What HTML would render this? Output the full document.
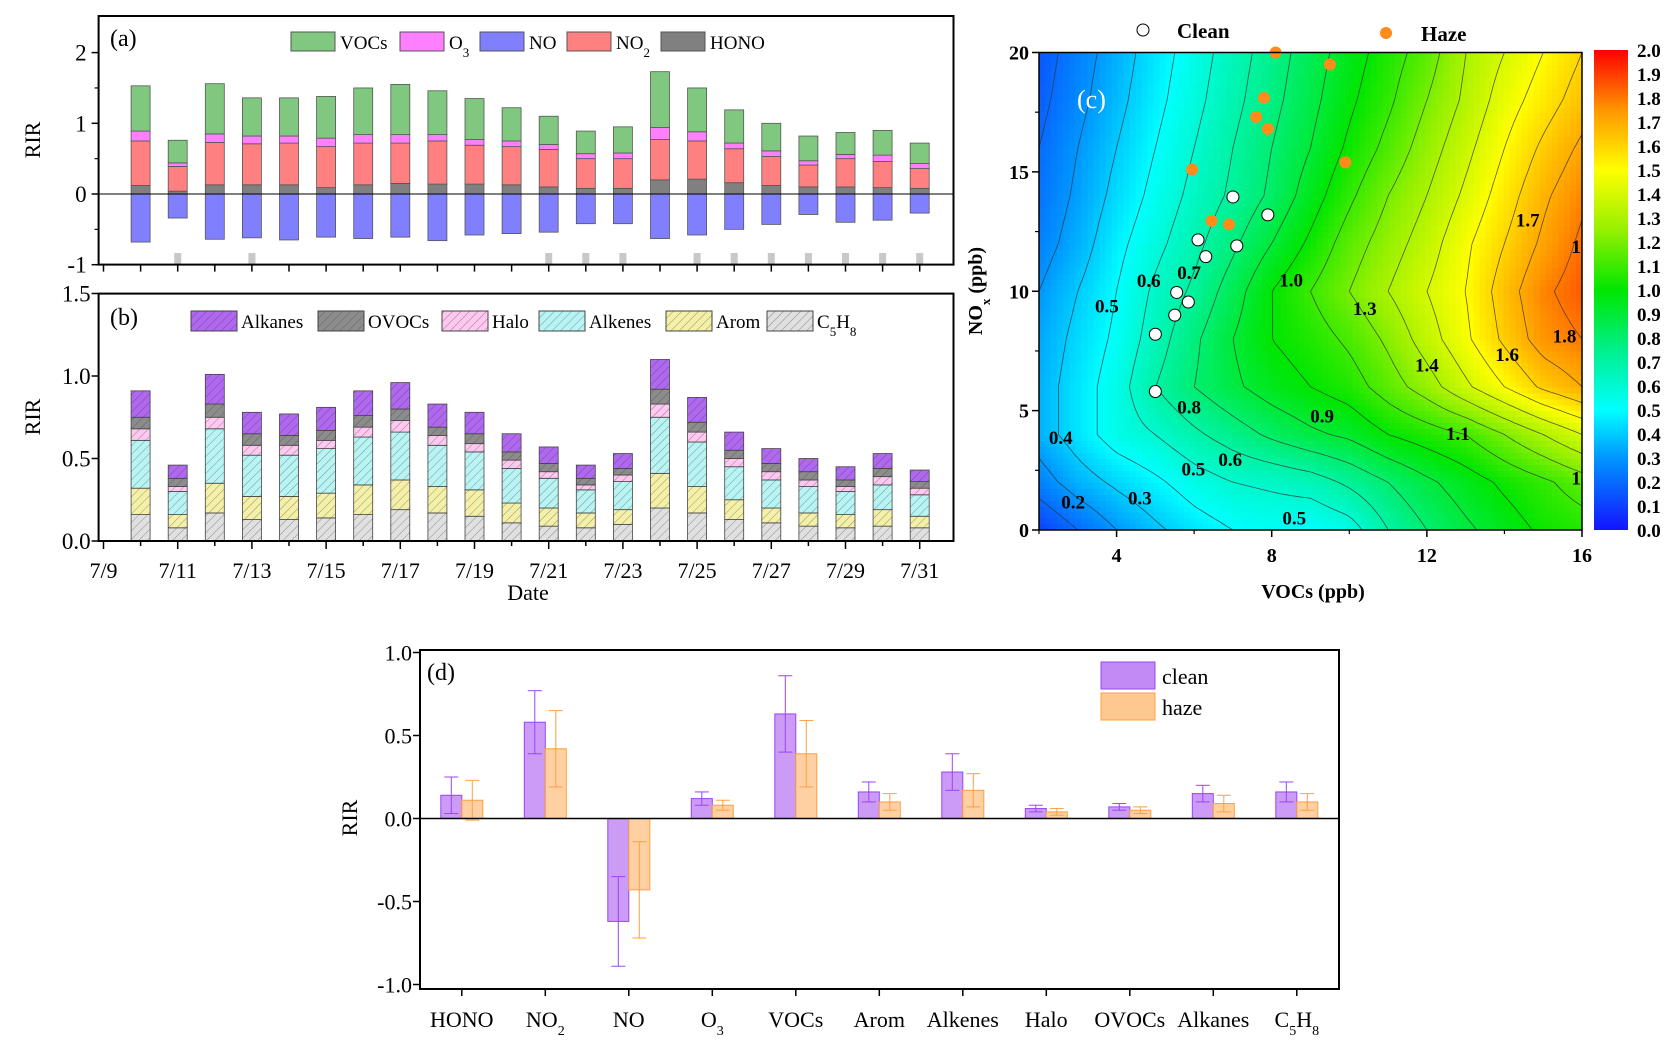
<!DOCTYPE html>
<html><head><meta charset="utf-8"><style>
html,body{margin:0;padding:0;background:#fff;}
svg{display:block;font-family:"Liberation Serif",serif;}
</style></head><body>
<svg id="s" width="1680" height="1054" viewBox="0 0 1680 1054" xmlns="http://www.w3.org/2000/svg">
<defs>
<pattern id="hatch" width="6" height="6" patternUnits="userSpaceOnUse" patternTransform="rotate(45)">
<line x1="0" y1="0" x2="0" y2="6" stroke="#333" stroke-width="0.9" stroke-opacity="0.55"/>
</pattern>
<linearGradient id="cbar" x1="0" y1="1" x2="0" y2="0">
<stop offset="0" stop-color="rgb(20,20,255)"/><stop offset="0.15" stop-color="rgb(0,150,255)"/>
<stop offset="0.25" stop-color="rgb(0,255,255)"/><stop offset="0.375" stop-color="rgb(0,240,140)"/>
<stop offset="0.5" stop-color="rgb(0,230,0)"/><stop offset="0.625" stop-color="rgb(150,240,0)"/>
<stop offset="0.75" stop-color="rgb(255,255,0)"/><stop offset="0.875" stop-color="rgb(255,150,0)"/>
<stop offset="1" stop-color="rgb(255,0,0)"/>
</linearGradient>
<clipPath id="cclip"><rect x="1039" y="52.5" width="543" height="477.5"/></clipPath>
</defs>
<g id="pa"></g>
<g id="pb"></g>
<g id="pc"></g>
<g id="pd"></g>
</svg>
<script>
// ---------- Panel (a) data ----------
const daysA = [10,11,12,13,14,15,16,17,18,19,20,21,22,23,24,25,26,27,28,29,30,31];
const honoTop = [.12,.04,.13,.13,.13,.09,.13,.15,.14,.14,.13,.10,.08,.08,.20,.21,.16,.12,.10,.10,.09,.08];
const no2Top  = [.75,.39,.73,.71,.72,.67,.72,.72,.75,.69,.67,.63,.50,.50,.77,.75,.64,.53,.41,.50,.46,.36];
const o3Top   = [.89,.44,.85,.82,.82,.79,.84,.84,.84,.77,.75,.70,.57,.58,.94,.88,.72,.61,.47,.56,.55,.43];
const vocTop  = [1.53,.76,1.56,1.36,1.36,1.38,1.50,1.55,1.46,1.35,1.22,1.10,.89,.95,1.73,1.50,1.19,1.00,.82,.87,.90,.72];
const noVal   = [-.68,-.34,-.64,-.62,-.65,-.61,-.63,-.61,-.66,-.58,-.56,-.54,-.42,-.42,-.63,-.58,-.50,-.43,-.29,-.40,-.37,-.27];
const hazeDays = [11,13,21,22,23,25,26,27,28,29,30,31];
const yTicksA = [-1,0,1,2];
// ---------- Panel (b) data ----------
const c5Top  = [.16,.08,.17,.13,.13,.14,.16,.19,.17,.15,.11,.09,.08,.10,.20,.17,.13,.11,.09,.08,.09,.08];
const aromTop= [.32,.16,.35,.27,.27,.29,.34,.37,.33,.31,.23,.20,.17,.19,.41,.33,.25,.20,.17,.16,.19,.15];
const alkeTop= [.61,.30,.68,.52,.52,.56,.63,.66,.58,.54,.44,.38,.31,.36,.75,.60,.45,.37,.33,.30,.34,.28];
const haloTop= [.68,.33,.75,.58,.58,.61,.69,.73,.64,.59,.49,.42,.34,.40,.83,.66,.50,.42,.37,.33,.39,.32];
const ovocTop= [.75,.38,.83,.65,.64,.67,.76,.80,.69,.65,.54,.47,.38,.44,.92,.72,.55,.47,.42,.37,.44,.36];
const alkaTop= [.91,.46,1.01,.78,.77,.81,.91,.96,.83,.78,.65,.57,.46,.53,1.10,.87,.66,.56,.50,.45,.53,.43];
const yTicksB = ["0.0","0.5","1.0","1.5"];
const xLabelDays = [9,11,13,15,17,19,21,23,25,27,29,31];
// ---------- Panel (c) data ----------
const gridX = [2,3,4,5,6,7,8,9,10,11,12,13,14,15,16];
const gridY = [0,2,4,6,8,10,12,14,16,18,20];
const gridZ = [
 [.10,.20,.30,.38,.45,.50,.52,.50,.55,.70,.80,.88,.95,1.02,1.05],
 [.25,.35,.42,.48,.55,.60,.62,.65,.72,.80,.88,.95,1.02,1.08,1.15],
 [.35,.45,.55,.60,.68,.75,.82,.88,.92,1.00,1.05,1.10,1.20,1.30,1.40],
 [.35,.45,.55,.70,.80,.88,.95,1.00,1.05,1.15,1.25,1.38,1.50,1.62,1.70],
 [.33,.43,.52,.65,.78,.90,1.00,1.05,1.12,1.22,1.35,1.48,1.62,1.75,1.80],
 [.30,.40,.50,.62,.72,.85,1.00,1.10,1.20,1.30,1.40,1.50,1.65,1.78,1.85],
 [.25,.35,.47,.57,.67,.78,.90,1.02,1.15,1.25,1.35,1.48,1.60,1.72,1.82],
 [.22,.32,.43,.53,.63,.72,.82,.95,1.08,1.20,1.30,1.42,1.55,1.68,1.78],
 [.20,.30,.40,.50,.60,.70,.80,.90,1.02,1.13,1.25,1.37,1.50,1.62,1.72],
 [.17,.27,.37,.47,.57,.67,.77,.87,.98,1.08,1.20,1.32,1.45,1.55,1.65],
 [.15,.25,.35,.45,.55,.65,.75,.85,.95,1.05,1.15,1.30,1.40,1.50,1.60]];
const contourLevels = [0.1,0.2,0.3,0.4,0.5,0.6,0.7,0.8,0.9,1.0,1.1,1.2,1.3,1.4,1.5,1.6,1.7,1.8,1.9];
const cleanX = [5.0,5.0,5.5,5.55,5.85,6.3,6.1,7.1,7.0,7.9];
const cleanY = [5.8,8.2,9.0,9.95,9.55,11.45,12.15,11.9,13.95,13.2];
const hazeX = [8.1,9.5,7.8,7.6,7.9,5.95,9.9,6.45,6.9];
const hazeY = [20,19.5,18.1,17.3,16.8,15.1,15.4,12.95,12.8];
const contourText = ["0.5","0.6","0.7","1.0","1.3","1.7","1","1.8","1.6","1.4","0.8","0.9","1.1","0.4","0.6","0.5","0.3","0.2","0.5","1"];
const contourX = [3.75,4.83,5.87,8.5,10.4,14.6,15.85,15.55,14.07,12.0,5.87,9.3,12.8,2.56,6.93,5.98,4.6,2.88,8.58,15.85];
const contourY = [9.4,10.47,10.8,10.5,9.3,13.0,11.9,8.15,7.37,6.94,5.17,4.8,4.06,3.9,2.98,2.57,1.36,1.19,0.53,2.19];
const xTicksC = [4,8,12,16];
const yTicksC = [0,5,10,15,20];
const cbarTicks = ["0.0","0.1","0.2","0.3","0.4","0.5","0.6","0.7","0.8","0.9","1.0","1.1","1.2","1.3","1.4","1.5","1.6","1.7","1.8","1.9","2.0"];
// ---------- Panel (d) data ----------
const catsD = ["HONO","NO2","NO","O3","VOCs","Arom","Alkenes","Halo","OVOCs","Alkanes","C5H8"];
const cleanV = [.14,.58,-.62,.12,.63,.16,.28,.06,.07,.15,.16];
const cleanE = [.11,.19,.27,.04,.23,.06,.11,.02,.02,.05,.06];
const hazeV  = [.11,.42,-.43,.08,.39,.10,.17,.04,.05,.09,.10];
const hazeE  = [.12,.23,.29,.03,.20,.05,.10,.02,.02,.05,.05];
const yTicksD = ["-1.0","-0.5","0.0","0.5","1.0"];

const NS="http://www.w3.org/2000/svg";
function mk(parent,tag,attrs,text){const e=document.createElementNS(NS,tag);for(const k in attrs)e.setAttribute(k,attrs[k]);if(text!==undefined)e.textContent=text;parent.appendChild(e);return e;}

// ===== Panel a =====
(function(){
 const g=document.getElementById('pa');
 const L=98.6,R=953.5,T=16,B=264.6;
 const y=v=>194-v*70.7, x=d=>103.5+(d-9)*37.1, bw=19;
 const series=[["hono",null,honoTop,"#808080"],["no2",honoTop,no2Top,"#ff8080"],["o3",no2Top,o3Top,"#ff80ff"],["vocs",o3Top,vocTop,"#80c880"]];
 daysA.forEach((d,i)=>{
  series.forEach(s=>{
   const lo=s[1]?s[1][i]:0, hi=s[2][i];
   const r=mk(g,'rect',{x:x(d)-bw/2,y:y(hi),width:bw,height:Math.max(0,y(lo)-y(hi)),fill:s[3],stroke:"#555","stroke-width":0.8});
   
   
  });
  const r=mk(g,'rect',{x:x(d)-bw/2,y:y(0),width:bw,height:y(noVal[i])-y(0),fill:"#8080ff",stroke:"#555","stroke-width":0.8});
  
  
 });
 hazeDays.forEach(d=>{const r=mk(g,'rect',{x:x(d)-3.5,y:253,width:7,height:11,fill:"#c8c8c8"});
  
  });
 mk(g,'line',{x1:L,y1:y(0),x2:R,y2:y(0),stroke:"#000","stroke-width":1});
 const f=mk(g,'rect',{x:L,y:T,width:R-L,height:B-T,fill:"none",stroke:"#000","stroke-width":2});
 
 for(let d=9;d<=31;d++) mk(g,'line',{x1:x(d),y1:B,x2:x(d),y2:B+7,stroke:"#000","stroke-width":1.5});
 yTicksA.forEach(v=>{mk(g,'line',{x1:L-7,y1:y(v),x2:L,y2:y(v),stroke:"#000","stroke-width":1.5});
  const t=mk(g,'text',{x:L-12,y:y(v)+8,"text-anchor":"end","font-size":23},String(v));
  });
 [-0.5,0.5,1.5].forEach(v=>mk(g,'line',{x1:L-4,y1:y(v),x2:L,y2:y(v),stroke:"#000","stroke-width":1.2}));
 const yl=mk(g,'text',{x:40,y:140,"text-anchor":"middle","font-size":22,transform:"rotate(-90 40 140)"},"RIR");
 
 const pl=mk(g,'text',{x:110,y:46,"font-size":24},"(a)");
 const leg=[["VOCs",291,"#80c880"],["O<tspan baseline-shift='sub' font-size='13'>3</tspan>",400,"#ff80ff"],["NO",480,"#8080ff"],["NO<tspan baseline-shift='sub' font-size='13'>2</tspan>",567,"#ff8080"],["HONO",661,"#808080"]];
 leg.forEach(l=>{const r=mk(g,'rect',{x:l[1],y:32,width:44,height:19,fill:l[2],stroke:"#555","stroke-width":1});
  
  const t=mk(g,'text',{x:l[1]+49,y:49,"font-size":19});t.innerHTML=l[0];
  });
})();

// ===== Panel b =====
(function(){
 const g=document.getElementById('pb');
 const L=98.6,R=953.5,T=293.6,B=541;
 const y=v=>B-v*165, x=d=>103.5+(d-9)*37.1, bw=19;
 const series=[["c5h8",null,c5Top,"#e0e0e0"],["arom",c5Top,aromTop,"#f4f0a8"],["alkenes",aromTop,alkeTop,"#b8f4f4"],["halo",alkeTop,haloTop,"#ffc8f0"],["ovocs",haloTop,ovocTop,"#8c8c8c"],["alkanes",ovocTop,alkaTop,"#b068f0"]];
 daysA.forEach((d,i)=>{
  series.forEach(s=>{
   const lo=s[1]?s[1][i]:0, hi=s[2][i];
   const r=mk(g,'rect',{x:x(d)-bw/2,y:y(hi),width:bw,height:Math.max(0,y(lo)-y(hi)),fill:s[3],stroke:"#444","stroke-width":0.8});
   
   
   mk(g,'rect',{x:x(d)-bw/2,y:y(hi),width:bw,height:Math.max(0,y(lo)-y(hi)),fill:"url(#hatch)"});
  });
 });
 const f=mk(g,'rect',{x:L,y:T,width:R-L,height:B-T,fill:"none",stroke:"#000","stroke-width":2});
 
 for(let d=9;d<=31;d++) mk(g,'line',{x1:x(d),y1:B,x2:x(d),y2:B+(d%2?8:5),stroke:"#000","stroke-width":1.5});
 xLabelDays.forEach(d=>{const t=mk(g,'text',{x:x(d),y:578,"text-anchor":"middle","font-size":22},"7/"+d);
  });
 yTicksB.forEach(s=>{const v=parseFloat(s);mk(g,'line',{x1:L-7,y1:y(v),x2:L,y2:y(v),stroke:"#000","stroke-width":1.5});
  const t=mk(g,'text',{x:L-8,y:y(v)+8,"text-anchor":"end","font-size":23},s);
  });
 const xt=mk(g,'text',{x:528,y:600,"text-anchor":"middle","font-size":22},"Date");
 const yl=mk(g,'text',{x:40,y:417,"text-anchor":"middle","font-size":22,transform:"rotate(-90 40 417)"},"RIR");
 
 const pl=mk(g,'text',{x:110,y:325,"font-size":24},"(b)");
 const leg=[["Alkanes",191,"#b068f0"],["OVOCs",318,"#8c8c8c"],["Halo",442,"#ffc8f0"],["Alkenes",539,"#b8f4f4"],["Arom",666,"#f4f0a8"],["C<tspan baseline-shift='sub' font-size='13'>5</tspan>H<tspan baseline-shift='sub' font-size='13'>8</tspan>",767,"#e0e0e0"]];
 leg.forEach(l=>{const r=mk(g,'rect',{x:l[1],y:311,width:46,height:20,fill:l[2],stroke:"#444","stroke-width":1});
  
  mk(g,'rect',{x:l[1],y:311,width:46,height:20,fill:"url(#hatch)"});
  const t=mk(g,'text',{x:l[1]+50,y:328,"font-size":19});t.innerHTML=l[0];
  });
})();

// ===== Panel c =====
(function(){
 const g=document.getElementById('pc');
 const L=1039,R=1582,T=52.5,B=530;
 const x=v=>L+(v-2)*(R-L)/14, y=v=>B-v*(B-T)/20;
 const stops=[[0,[20,20,255]],[.3,[0,150,255]],[.5,[0,255,255]],[.75,[0,240,140]],[1,[0,230,0]],[1.25,[150,240,0]],[1.5,[255,255,0]],[1.75,[255,150,0]],[2,[255,0,0]]];
 function cmap(v){v=Math.max(0,Math.min(2,v));for(let i=1;i<stops.length;i++){if(v<=stops[i][0]){const a=stops[i-1],b=stops[i],t=(v-a[0])/(b[0]-a[0]);return 'rgb('+a[1].map((c,k)=>Math.round(c+(b[1][k]-c)*t)).join(',')+')';}}return 'rgb(255,0,0)';}
 // bilinear sample of the read grid (rendering only)
 function zAt(vx,vy){
  let fi=(vx-gridX[0])/(gridX[1]-gridX[0]), fj=(vy-gridY[0])/(gridY[1]-gridY[0]);
  fi=Math.max(0,Math.min(gridX.length-1.0001,fi)); fj=Math.max(0,Math.min(gridY.length-1.0001,fj));
  const i=Math.floor(fi),j=Math.floor(fj),a=fi-i,b=fj-j;
  return (gridZ[j][i]*(1-a)+gridZ[j][i+1]*a)*(1-b)+(gridZ[j+1][i]*(1-a)+gridZ[j+1][i+1]*a)*b;
 }
 const cg=mk(g,'g',{"clip-path":"url(#cclip)"});
 const hg=mk(cg,'g',{"shape-rendering":"crispEdges"});
 
 const NX=90,NY=80;
 const dx=14/NX, dy=20/NY;
 const Z=[];
 for(let j=0;j<=NY;j++){Z.push([]);for(let i=0;i<=NX;i++)Z[j].push(zAt(2+i*dx,j*dy));}
 for(let j=0;j<NY;j++)for(let i=0;i<NX;i++){
  const vx=2+(i+0.5)*dx, vy=(j+0.5)*dy;
  const r=mk(hg,'rect',{x:x(2+i*dx),y:y((j+1)*dy),width:x(2+dx)-x(2)+0.6,height:y(0)-y(dy)+0.6,fill:cmap(zAt(vx,vy))});
  
  
 }
 // contour lines via marching squares
 const cl=mk(cg,'g',{stroke:"#333","stroke-width":0.8,fill:"none","stroke-opacity":0.8});
 
 contourLevels.forEach(lv=>{
  let d="";
  for(let j=0;j<NY;j++)for(let i=0;i<NX;i++){
   const c=[[i,j,Z[j][i]],[i+1,j,Z[j][i+1]],[i+1,j+1,Z[j+1][i+1]],[i,j+1,Z[j+1][i]]];
   const pts=[];
   for(let k=0;k<4;k++){const p=c[k],q=c[(k+1)%4];
    if((p[2]<lv)!==(q[2]<lv)){const t=(lv-p[2])/(q[2]-p[2]);
     pts.push([x(2+(p[0]+(q[0]-p[0])*t)*dx),y((p[1]+(q[1]-p[1])*t)*dy)]);}}
   for(let k=0;k+1<pts.length;k+=2)d+="M"+pts[k][0].toFixed(1)+" "+pts[k][1].toFixed(1)+"L"+pts[k+1][0].toFixed(1)+" "+pts[k+1][1].toFixed(1);
  }
  if(d){const p=mk(cl,'path',{d:d});}
 });
 contourText.forEach((s,i)=>{const t=mk(cg,'text',{x:x(contourX[i]),y:y(contourY[i])+7,"text-anchor":"middle","font-size":19,"font-weight":"bold"},s);
  });
 const pl=mk(g,'text',{x:1077,y:108,"font-size":26,fill:"#fff"},"(c)");
 cleanX.forEach((v,i)=>{const c=mk(g,'circle',{cx:x(v),cy:y(cleanY[i]),r:6,fill:"#fff",stroke:"#000","stroke-width":1});
  });
 hazeX.forEach((v,i)=>{const c=mk(g,'circle',{cx:x(v),cy:y(hazeY[i]),r:6,fill:"#ff8c1a"});
  });
 const f=mk(g,'rect',{x:L,y:T,width:R-L,height:B-T,fill:"none",stroke:"#000","stroke-width":1.5});
 
 xTicksC.forEach(v=>{mk(g,'line',{x1:x(v),y1:B,x2:x(v),y2:B+7,stroke:"#000","stroke-width":1.5});
  const t=mk(g,'text',{x:x(v),y:B+32,"text-anchor":"middle","font-size":20,"font-weight":"bold"},String(v));
  });
 [2,6,10,14].forEach(v=>mk(g,'line',{x1:x(v),y1:B,x2:x(v),y2:B+4,stroke:"#000","stroke-width":1.2}));
 yTicksC.forEach(v=>{mk(g,'line',{x1:L-7,y1:y(v),x2:L,y2:y(v),stroke:"#000","stroke-width":1.5});
  const t=mk(g,'text',{x:L-10,y:y(v)+7,"text-anchor":"end","font-size":20,"font-weight":"bold"},String(v));
  });
 [2.5,7.5,12.5,17.5].forEach(v=>mk(g,'line',{x1:L-4,y1:y(v),x2:L,y2:y(v),stroke:"#000","stroke-width":1.2}));
 const xt=mk(g,'text',{x:1313,y:598,"text-anchor":"middle","font-size":20,"font-weight":"bold"},"VOCs (ppb)");
 
 const yt=mk(g,'text',{x:982,y:291,"text-anchor":"middle","font-size":20,"font-weight":"bold",transform:"rotate(-90 982 291)"});
 yt.innerHTML="NO<tspan baseline-shift='sub' font-size='13'>x</tspan> (ppb)";
 
 const cb=mk(g,'rect',{x:1594,y:50,width:34,height:480,fill:"url(#cbar)"});
 
 cbarTicks.forEach((s,i)=>{const t=mk(g,'text',{x:1637,y:530-i*24+7,"font-size":19,"font-weight":"bold"},s);
  });
 const lc=mk(g,'circle',{cx:1143,cy:30,r:6,fill:"#fff",stroke:"#000","stroke-width":1});
 const lt=mk(g,'text',{x:1177,y:38,"font-size":21,"font-weight":"bold"},"Clean");
 const lh=mk(g,'circle',{cx:1386,cy:33,r:6,fill:"#ff8c1a"});
 const lht=mk(g,'text',{x:1421,y:41,"font-size":21,"font-weight":"bold"},"Haze");
})();

// ===== Panel d =====
(function(){
 const g=document.getElementById('pd');
 const L=420,R=1339,T=650,B=989;
 const y=v=>818.5-v*166, cx=i=>L+41.8+i*83.5, bw=21;
 catsD.forEach((c,i)=>{
  [[cleanV,cleanE,-bw,"#c28af5","#9b45f0","clean"],[hazeV,hazeE,0,"#ffc890","#ffa040","haze"]].forEach(s=>{
   const v=s[0][i],e=s[1][i],x0=cx(i)+s[2];
   const r=mk(g,'rect',{x:x0,y:Math.min(y(v),y(0)),width:bw,height:Math.abs(y(v)-y(0)),fill:s[3],"fill-opacity":0.85,stroke:s[4],"stroke-width":1});
   
   
   const xm=x0+bw/2;
   mk(g,'line',{x1:xm,y1:y(v+e),x2:xm,y2:y(v-e),stroke:s[4],"stroke-width":1});
   mk(g,'line',{x1:xm-7,y1:y(v+e),x2:xm+7,y2:y(v+e),stroke:s[4],"stroke-width":1});
   mk(g,'line',{x1:xm-7,y1:y(v-e),x2:xm+7,y2:y(v-e),stroke:s[4],"stroke-width":1});
  });
  mk(g,'line',{x1:cx(i),y1:B,x2:cx(i),y2:B+7,stroke:"#000","stroke-width":1.5});
  const t=mk(g,'text',{x:cx(i),y:1027,"text-anchor":"middle","font-size":22});
  t.innerHTML=c.replace(/(\d)/g,"<tspan baseline-shift='sub' font-size='14'>$1</tspan>");
  
 });
 mk(g,'line',{x1:L,y1:y(0),x2:R,y2:y(0),stroke:"#000","stroke-width":1.5});
 const f=mk(g,'rect',{x:L,y:T,width:R-L,height:B-T,fill:"none",stroke:"#000","stroke-width":2});
 
 yTicksD.forEach(s=>{const v=parseFloat(s);mk(g,'line',{x1:L-7,y1:y(v),x2:L,y2:y(v),stroke:"#000","stroke-width":1.5});
  const t=mk(g,'text',{x:L-8,y:y(v)+8,"text-anchor":"end","font-size":22},s);
  });
 const yl=mk(g,'text',{x:357,y:818,"text-anchor":"middle","font-size":22,transform:"rotate(-90 357 818)"},"RIR");
 
 const pl=mk(g,'text',{x:427,y:680,"font-size":24},"(d)");
 const l1=mk(g,'rect',{x:1101,y:662,width:54,height:27,fill:"#c28af5",stroke:"#9b45f0"});
 const l2=mk(g,'rect',{x:1101,y:693,width:54,height:27,fill:"#ffc890",stroke:"#ffa040"});
 const t1=mk(g,'text',{x:1162,y:684,"font-size":22},"clean");
 const t2=mk(g,'text',{x:1162,y:715,"font-size":22},"haze");
})();
</script>
</body></html>
